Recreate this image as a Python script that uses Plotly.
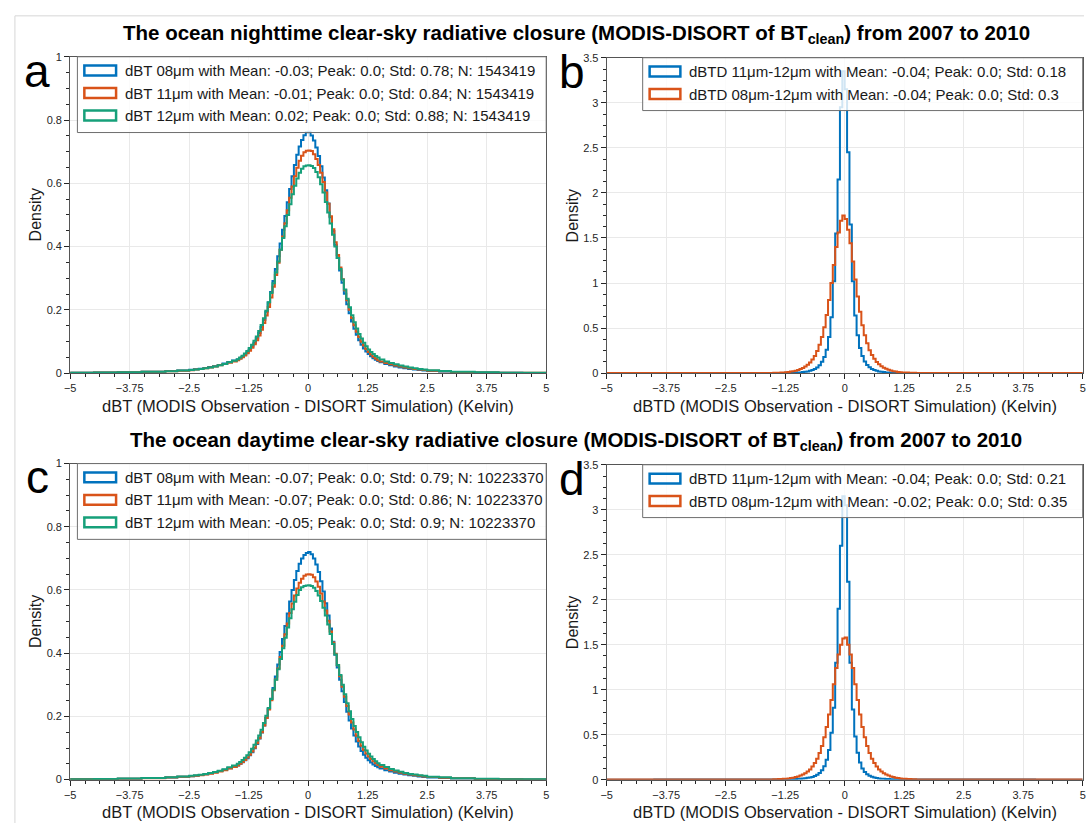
import numpy as np
import plotly.graph_objects as go

# ---------------- data: bin edges ----------------
WIDE_EDGES = ([-5.0, -4.5, -4.0, -3.5, -3.0, -2.75]
              + list(np.round(np.linspace(-2.5, -1.6, 10), 3))
              + list(np.round(np.linspace(-1.5, 1.45, 60), 3))
              + list(np.round(np.linspace(1.5, 2.4, 10), 3))
              + [2.5, 2.75, 3.0, 3.5, 4.0, 4.5, 5.0])
NARROW_EDGES = ([-5.0, -4.0, -3.0, -2.5, -2.0]
                + list(np.round(np.linspace(-1.5, 1.45, 60), 3))
                + [1.5, 2.0, 2.5, 3.0, 4.0, 5.0])

# ---------------- data: densities ----------------
# panel a: ocean nighttime dBT
A_BT08 = [0.0012, 0.0018, 0.0028, 0.0045, 0.0065, 0.0085,
          0.0105, 0.012, 0.014, 0.016, 0.019, 0.022, 0.026, 0.030, 0.035, 0.040,
          0.043, 0.047, 0.052, 0.058, 0.065, 0.074, 0.084, 0.096, 0.11, 0.127,
          0.146, 0.168, 0.194, 0.223, 0.256, 0.291, 0.329, 0.369, 0.41, 0.453,
          0.497, 0.54, 0.582, 0.622, 0.658, 0.69, 0.716, 0.737, 0.752, 0.761,
          0.763, 0.751, 0.735, 0.713, 0.686, 0.654, 0.618, 0.578, 0.536, 0.493,
          0.449, 0.406, 0.364, 0.324, 0.286, 0.251, 0.218, 0.189, 0.163, 0.140,
          0.121, 0.104, 0.090, 0.078, 0.068, 0.060, 0.053, 0.047, 0.042, 0.038,
          0.034, 0.029, 0.025, 0.021, 0.018, 0.015, 0.013, 0.011, 0.0095, 0.008,
          0.0065, 0.005, 0.0033, 0.002, 0.0012, 0.0007]
A_BT11 = [0.001, 0.0016, 0.0026, 0.0042, 0.006, 0.0078,
          0.009, 0.011, 0.013, 0.015, 0.018, 0.021, 0.025, 0.029, 0.033, 0.037,
          0.041, 0.045, 0.05, 0.056, 0.063, 0.071, 0.08, 0.091, 0.104, 0.119,
          0.137, 0.158, 0.182, 0.209, 0.239, 0.273, 0.31, 0.349, 0.39, 0.432,
          0.474, 0.515, 0.554, 0.59, 0.622, 0.649, 0.671, 0.687, 0.698, 0.703,
          0.704, 0.702, 0.692, 0.677, 0.658, 0.633, 0.604, 0.571, 0.535, 0.496,
          0.455, 0.414, 0.373, 0.334, 0.297, 0.262, 0.23, 0.2, 0.174, 0.151,
          0.131, 0.114, 0.099, 0.087, 0.076, 0.067, 0.059, 0.052, 0.046, 0.041,
          0.037, 0.032, 0.028, 0.024, 0.021, 0.018, 0.015, 0.013, 0.011, 0.0095,
          0.0075, 0.0058, 0.0038, 0.0023, 0.0013, 0.0008]
A_BT12 = [0.001, 0.0016, 0.0026, 0.0042, 0.006, 0.008,
          0.0095, 0.011, 0.013, 0.015, 0.018, 0.021, 0.025, 0.029, 0.034, 0.039,
          0.044, 0.049, 0.055, 0.062, 0.07, 0.079, 0.09, 0.102, 0.116, 0.133,
          0.152, 0.173, 0.197, 0.224, 0.253, 0.284, 0.318, 0.353, 0.39, 0.427,
          0.464, 0.5, 0.534, 0.565, 0.592, 0.615, 0.633, 0.646, 0.654, 0.656,
          0.657, 0.655, 0.648, 0.636, 0.619, 0.597, 0.571, 0.541, 0.508, 0.473,
          0.437, 0.4, 0.364, 0.329, 0.296, 0.264, 0.235, 0.208, 0.183, 0.161,
          0.141, 0.124, 0.109, 0.096, 0.085, 0.075, 0.067, 0.06, 0.054, 0.049,
          0.043, 0.037, 0.032, 0.028, 0.024, 0.021, 0.018, 0.015, 0.013, 0.011,
          0.0088, 0.0066, 0.0043, 0.0025, 0.0014, 0.0008]

# panel b: ocean nighttime dBTD
B_BTD11_12 = [0.0001, 0.0002, 0.0004, 0.0006, 0.0009,
              0.0012, 0.0014, 0.0016, 0.0019, 0.0022, 0.0026, 0.003, 0.0035, 0.0042, 0.005,
              0.006, 0.008, 0.011, 0.014, 0.019, 0.025, 0.034, 0.046, 0.063, 0.088,
              0.125, 0.18, 0.26, 0.40, 0.62, 1.02, 1.55, 2.15, 2.95, 3.35,
              3.15, 2.45, 1.65, 1.02, 0.64, 0.42, 0.28, 0.19, 0.13, 0.09,
              0.064, 0.046, 0.034, 0.025, 0.019, 0.014, 0.011, 0.008, 0.006, 0.005,
              0.004, 0.0034, 0.0029, 0.0025, 0.0021, 0.0018, 0.0015, 0.0013, 0.0011, 0.001,
              0.0008, 0.0005, 0.0003, 0.0002, 0.0001]
B_BTD08_12 = [0.0002, 0.0004, 0.0008, 0.0013, 0.002,
              0.003, 0.004, 0.005, 0.006, 0.008, 0.010, 0.013, 0.017, 0.021, 0.027,
              0.035, 0.045, 0.058, 0.073, 0.093, 0.118, 0.152, 0.19, 0.245, 0.315,
              0.40, 0.51, 0.645, 0.81, 1.00, 1.20, 1.40, 1.56, 1.69, 1.75,
              1.71, 1.59, 1.44, 1.24, 1.04, 0.85, 0.68, 0.53, 0.42, 0.33,
              0.255, 0.20, 0.158, 0.123, 0.097, 0.077, 0.06, 0.047, 0.037, 0.029,
              0.022, 0.017, 0.013, 0.010, 0.008, 0.007, 0.006, 0.005, 0.004, 0.003,
              0.002, 0.0013, 0.0008, 0.0004, 0.0002]

# panel c: ocean daytime dBT
C_BT08 = [0.0014, 0.002, 0.003, 0.0048, 0.007, 0.009,
          0.011, 0.0125, 0.0145, 0.017, 0.02, 0.023, 0.027, 0.031, 0.036, 0.041,
          0.045, 0.05, 0.055, 0.061, 0.068, 0.077, 0.087, 0.099, 0.113, 0.13,
          0.149, 0.171, 0.196, 0.224, 0.256, 0.29, 0.326, 0.364, 0.404, 0.445,
          0.486, 0.526, 0.564, 0.6, 0.632, 0.66, 0.683, 0.7, 0.711, 0.717,
          0.72, 0.713, 0.7, 0.681, 0.657, 0.628, 0.595, 0.558, 0.519, 0.478,
          0.436, 0.395, 0.355, 0.316, 0.28, 0.246, 0.215, 0.187, 0.162, 0.14,
          0.121, 0.105, 0.091, 0.079, 0.069, 0.061, 0.054, 0.048, 0.043, 0.039,
          0.035, 0.03, 0.026, 0.022, 0.019, 0.016, 0.014, 0.012, 0.01, 0.0085,
          0.0068, 0.0052, 0.0034, 0.002, 0.0012, 0.0007]
C_BT11 = [0.0013, 0.0019, 0.003, 0.0046, 0.0068, 0.0088,
          0.0105, 0.012, 0.014, 0.016, 0.019, 0.022, 0.026, 0.03, 0.035, 0.04,
          0.045, 0.05, 0.056, 0.062, 0.07, 0.079, 0.089, 0.101, 0.115, 0.131,
          0.15, 0.171, 0.195, 0.222, 0.251, 0.283, 0.317, 0.352, 0.388, 0.424,
          0.46, 0.494, 0.527, 0.557, 0.583, 0.605, 0.623, 0.636, 0.645, 0.649,
          0.65, 0.648, 0.64, 0.627, 0.61, 0.589, 0.564, 0.535, 0.503, 0.469,
          0.434, 0.398, 0.362, 0.327, 0.294, 0.262, 0.233, 0.206, 0.181, 0.159,
          0.139, 0.122, 0.107, 0.094, 0.083, 0.073, 0.065, 0.058, 0.052, 0.046,
          0.041, 0.035, 0.03, 0.026, 0.022, 0.019, 0.016, 0.014, 0.012, 0.01,
          0.008, 0.006, 0.004, 0.0024, 0.0014, 0.0008]
C_BT12 = [0.0015, 0.0022, 0.0033, 0.005, 0.0075, 0.0098,
          0.012, 0.0135, 0.0155, 0.018, 0.021, 0.024, 0.028, 0.033, 0.039, 0.045,
          0.05, 0.056, 0.062, 0.069, 0.077, 0.087, 0.098, 0.11, 0.124, 0.14,
          0.158, 0.179, 0.202, 0.227, 0.255, 0.285, 0.316, 0.349, 0.382, 0.416,
          0.449, 0.481, 0.511, 0.539, 0.563, 0.584, 0.6, 0.609, 0.613, 0.614,
          0.615, 0.613, 0.607, 0.597, 0.583, 0.565, 0.544, 0.519, 0.491, 0.461,
          0.429, 0.396, 0.363, 0.331, 0.3, 0.27, 0.242, 0.216, 0.192, 0.17,
          0.151, 0.134, 0.118, 0.104, 0.092, 0.082, 0.073, 0.065, 0.058, 0.052,
          0.046, 0.04, 0.034, 0.029, 0.025, 0.021, 0.018, 0.016, 0.014, 0.012,
          0.0095, 0.0072, 0.0046, 0.0027, 0.0015, 0.0009]

# panel d: ocean daytime dBTD
D_BTD11_12 = [0.0001, 0.0003, 0.0005, 0.0008, 0.0012,
              0.0015, 0.0018, 0.0021, 0.0025, 0.003, 0.0036, 0.0043, 0.0052, 0.0063, 0.0076,
              0.009, 0.011, 0.013, 0.016, 0.02, 0.024, 0.03, 0.04, 0.055, 0.075,
              0.105, 0.15, 0.22, 0.33, 0.52, 0.8, 1.3, 1.9, 2.6, 3.15,
              3.05, 2.2, 1.3, 0.78, 0.48, 0.3, 0.19, 0.125, 0.085, 0.06,
              0.043, 0.032, 0.024, 0.018, 0.014, 0.011, 0.009, 0.0075, 0.0062, 0.0052,
              0.0044, 0.0037, 0.0031, 0.0026, 0.0022, 0.0019, 0.0016, 0.0014, 0.0012, 0.001,
              0.0008, 0.0005, 0.0003, 0.0002, 0.0001]
D_BTD08_12 = [0.0003, 0.0006, 0.001, 0.0016, 0.0025,
              0.0035, 0.0045, 0.006, 0.007, 0.009, 0.011, 0.014, 0.018, 0.022, 0.028,
              0.036, 0.045, 0.056, 0.071, 0.09, 0.114, 0.145, 0.184, 0.232, 0.295,
              0.375, 0.47, 0.585, 0.725, 0.885, 1.06, 1.24, 1.39, 1.50, 1.57,
              1.58, 1.50, 1.39, 1.24, 1.06, 0.885, 0.725, 0.585, 0.47, 0.375,
              0.295, 0.232, 0.184, 0.145, 0.114, 0.09, 0.071, 0.056, 0.045, 0.036,
              0.028, 0.022, 0.018, 0.014, 0.011, 0.009, 0.007, 0.006, 0.0045, 0.0035,
              0.0025, 0.0016, 0.001, 0.0006, 0.0003]

# ---------------- text ----------------
X_TICK_VALS = [-5, -3.75, -2.5, -1.25, 0, 1.25, 2.5, 3.75, 5]
X_TICK_TEXT = ["\u22125", "\u22123.75", "\u22122.5", "\u22121.25", "0", "1.25", "2.5", "3.75", "5"]

LEG_A = ["dBT 08\u03bcm with Mean: -0.03; Peak: 0.0; Std: 0.78; N: 1543419",
         "dBT 11\u03bcm with Mean: -0.01; Peak: 0.0; Std: 0.84; N: 1543419",
         "dBT 12\u03bcm with Mean: 0.02; Peak: 0.0; Std: 0.88; N: 1543419"]
LEG_B = ["dBTD 11\u03bcm-12\u03bcm with Mean: -0.04; Peak: 0.0; Std: 0.18",
         "dBTD 08\u03bcm-12\u03bcm with Mean: -0.04; Peak: 0.0; Std: 0.3"]
LEG_C = ["dBT 08\u03bcm with Mean: -0.07; Peak: 0.0; Std: 0.79; N: 10223370",
         "dBT 11\u03bcm with Mean: -0.07; Peak: 0.0; Std: 0.86; N: 10223370",
         "dBT 12\u03bcm with Mean: -0.05; Peak: 0.0; Std: 0.9; N: 10223370"]
LEG_D = ["dBTD 11\u03bcm-12\u03bcm with Mean: -0.04; Peak: 0.0; Std: 0.21",
         "dBTD 08\u03bcm-12\u03bcm with Mean: -0.02; Peak: 0.0; Std: 0.35"]

TITLE_NIGHT = "<b>The ocean nighttime clear-sky radiative closure (MODIS-DISORT of BT<sub>clean</sub>) from 2007 to 2010</b>"
TITLE_DAY = "<b>The ocean daytime clear-sky radiative closure (MODIS-DISORT of BT<sub>clean</sub>) from 2007 to 2010</b>"
XT_BT = "dBT (MODIS Observation - DISORT Simulation) (Kelvin)"
XT_BTD = "dBTD (MODIS Observation - DISORT Simulation) (Kelvin)"

BLUE, ORANGE, GREEN = "#0072BD", "#D95319", "#16A07A"

# ---------------- layout helpers ----------------
W, H = 1087, 829
FONT = "Liberation Sans, Arial, Helvetica, sans-serif"


def px(x):
    return x / W


def py(y):
    return 1 - y / H


panels = [
    dict(box=(64.7, 544.7, 51.5, 372.5), ymax=1.0, dy=0.2, dym=0.05,
         series=[A_BT08, A_BT11, A_BT12], colors=[BLUE, ORANGE, GREEN], edges=WIDE_EDGES,
         legend=LEG_A, xtitle=XT_BT, letter="a", leg_left=72, icon=(79, 111), text_x=118),
    dict(box=(605.7, 1085.7, 52.5, 372.5), ymax=3.5, dy=0.5, dym=0.125,
         series=[B_BTD11_12, B_BTD08_12], colors=[BLUE, ORANGE], edges=NARROW_EDGES,
         legend=LEG_B, xtitle=XT_BTD, letter="b", leg_left=642, icon=(649, 680), text_x=687),
    dict(box=(64.7, 544.7, 464.3, 785.0), ymax=1.0, dy=0.2, dym=0.05,
         series=[C_BT08, C_BT11, C_BT12], colors=[BLUE, ORANGE, GREEN], edges=WIDE_EDGES,
         legend=LEG_C, xtitle=XT_BT, letter="c", leg_left=72, icon=(79, 111), text_x=118),
    dict(box=(605.7, 1085.7, 465.5, 785.0), ymax=3.5, dy=0.5, dym=0.125,
         series=[D_BTD11_12, D_BTD08_12], colors=[BLUE, ORANGE], edges=NARROW_EDGES,
         legend=LEG_D, xtitle=XT_BTD, letter="d", leg_left=642, icon=(649, 680), text_x=687),
]

fig = go.Figure()
shapes, annotations = [], []
AX_LINE = "#555555"
TICK_C = "#262626"
GRID_C = "#e9e9e9"

for i, p in enumerate(panels, start=1):
    x0, x1, y0, y1 = p["box"]
    sfx = "" if i == 1 else str(i)
    for vals, col in zip(p["series"], p["colors"]):
        edges = p["edges"]
        assert len(vals) == len(edges) - 1, (p["letter"], len(vals), len(edges))
        fig.add_trace(go.Scatter(
            x=list(edges), y=list(vals) + [vals[-1]], mode="lines",
            line=dict(color=col, width=2, shape="hv"),
            xaxis="x" + sfx, yaxis="y" + sfx, showlegend=False, hoverinfo="skip"))

    fig.layout["xaxis" + sfx] = dict(
        domain=[px(x0), px(x1)], anchor="y" + sfx, range=[-5, 5],
        tickvals=X_TICK_VALS, ticktext=X_TICK_TEXT, ticks="outside", ticklen=5,
        tickwidth=1, tickcolor=TICK_C, showline=True, linecolor=AX_LINE, linewidth=1,
        mirror=True, showgrid=True, gridcolor=GRID_C, zeroline=False,
        tickfont=dict(size=11, color=TICK_C, family=FONT),
        minor=dict(dtick=0.3125, tick0=0, ticks="outside", ticklen=3, tickcolor=TICK_C,
                   showgrid=False))
    fig.layout["yaxis" + sfx] = dict(
        domain=[py(y1), py(y0)], anchor="x" + sfx, range=[0, p["ymax"]],
        dtick=p["dy"], tick0=0, ticks="outside", ticklen=5, tickwidth=1,
        tickcolor=TICK_C, showline=True, linecolor=AX_LINE, linewidth=1, mirror=True,
        showgrid=True, gridcolor=GRID_C, zeroline=False,
        tickfont=dict(size=11, color=TICK_C, family=FONT),
        minor=dict(dtick=p["dym"], tick0=0, ticks="outside", ticklen=3, tickcolor=TICK_C,
                   showgrid=False))

    # axis titles
    annotations.append(dict(x=px((x0 + x1) / 2), y=py(y1 + 33), xref="paper", yref="paper",
                            text=p["xtitle"], showarrow=False, xanchor="center", yanchor="middle",
                            font=dict(size=16.5, color="#1a1a1a", family=FONT)))
    annotations.append(dict(x=px(x0 - 35), y=py((y0 + y1) / 2), xref="paper", yref="paper",
                            text="Density", showarrow=False, textangle=-90,
                            xanchor="center", yanchor="middle",
                            font=dict(size=16, color="#1a1a1a", family=FONT)))
    # panel letter
    annotations.append(dict(x=px(x0 - 33 if i in (1, 3) else x0 - 35), y=py(y0 + 14),
                            xref="paper", yref="paper", text=p["letter"], showarrow=False,
                            xanchor="center", yanchor="middle",
                            font=dict(size=46, color="black", family=FONT)))

    # manual legend
    n = len(p["legend"])
    row_gap = 22.8
    leg_top = y0
    leg_bot = y0 + 8 + n * row_gap + (0.5 if n == 3 else 0)
    shapes.append(dict(type="rect", xref="paper", yref="paper", layer="above",
                       x0=px(p["leg_left"]), x1=px(x1), y0=py(leg_bot), y1=py(leg_top),
                       line=dict(color="#6e6e6e", width=1), fillcolor="rgba(255,255,255,0.82)"))
    for k, (txt, col) in enumerate(zip(p["legend"], p["colors"])):
        cy = y0 + 14 + k * row_gap
        shapes.append(dict(type="rect", xref="paper", yref="paper", layer="above",
                           x0=px(p["icon"][0]), x1=px(p["icon"][1]), y0=py(cy + 5), y1=py(cy - 5),
                           line=dict(color=col, width=2.5), fillcolor="rgba(255,255,255,0)"))
        annotations.append(dict(x=px(p["text_x"]), y=py(cy), xref="paper", yref="paper",
                                text=txt, showarrow=False, xanchor="left", yanchor="middle",
                                font=dict(size=15, color="#1a1a1a", family=FONT)))

# titles
annotations.append(dict(x=px(575), y=py(28), xref="paper", yref="paper", text=TITLE_NIGHT,
                        showarrow=False, xanchor="center", yanchor="middle",
                        font=dict(size=20.5, color="black", family=FONT)))
annotations.append(dict(x=px(575), y=py(441), xref="paper", yref="paper", text=TITLE_DAY,
                        showarrow=False, xanchor="center", yanchor="middle",
                        font=dict(size=20.5, color="black", family=FONT)))

# faint outer frame of the original figure
shapes.append(dict(type="line", xref="paper", yref="paper", x0=px(9), x1=1, y0=py(10), y1=py(10),
                   line=dict(color="#d6d6d6", width=1), layer="below"))
shapes.append(dict(type="line", xref="paper", yref="paper", x0=px(9), x1=px(9), y0=py(10), y1=0,
                   line=dict(color="#d6d6d6", width=1), layer="below"))

fig.update_layout(
    width=W, height=H, margin=dict(l=0, r=0, t=0, b=0),
    paper_bgcolor="white", plot_bgcolor="white",
    font=dict(family=FONT, color="#1a1a1a"),
    shapes=shapes, annotations=annotations, showlegend=False)

fig.write_html("out.html",
               config={"displayModeBar": False},
               post_script="document.body.style.margin='0px';"
                           "document.documentElement.style.margin='0px';"
                           "document.body.style.overflow='hidden';")
